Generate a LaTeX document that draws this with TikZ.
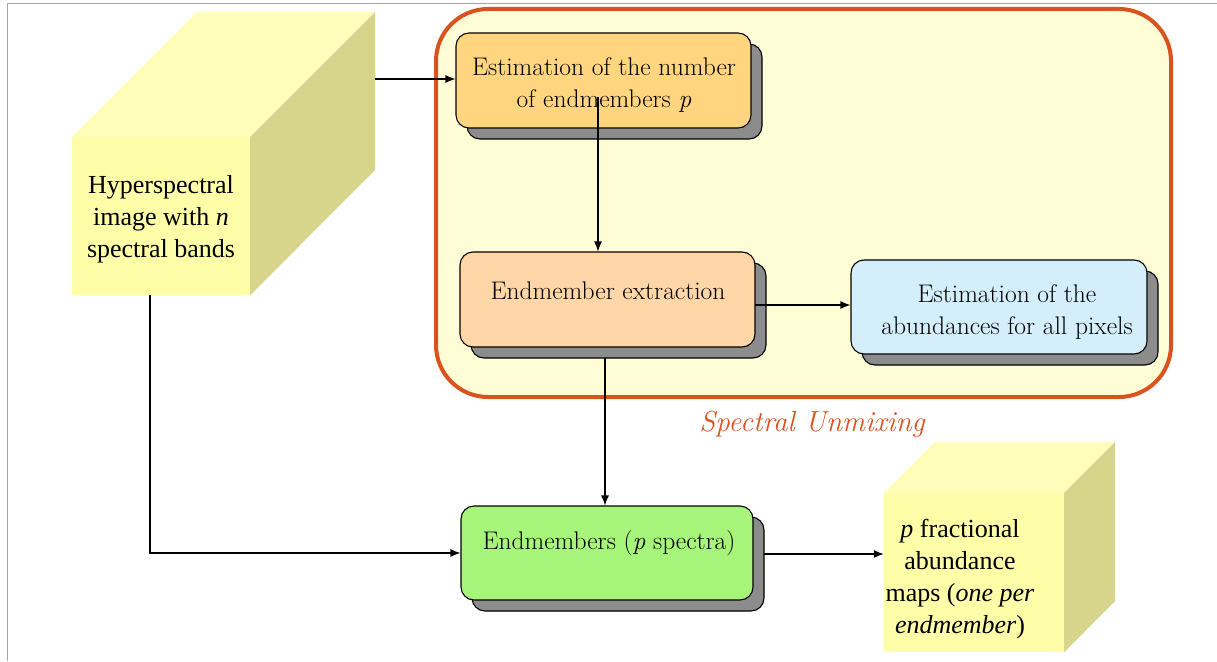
\documentclass[tikz,border=0pt]{standalone}
\usepackage{fontspec}
\newfontfamily\timesf{Liberation Serif}
\usetikzlibrary{arrows.meta,shadows,calc}
\definecolor{cubefront}{HTML}{FEFEA8}
\definecolor{cubetop}{HTML}{FFFDBA}
\definecolor{cubeside}{HTML}{D7D48B}
\definecolor{suframe}{HTML}{D9531E}
\definecolor{sufill}{HTML}{FFFDD6}
\definecolor{boxA}{HTML}{FFD580}
\definecolor{boxB}{HTML}{FFD6A7}
\definecolor{boxC}{HTML}{D4EEFC}
\definecolor{boxD}{HTML}{A7F47B}
\definecolor{shade}{HTML}{8C8C8C}
\begin{document}
\begin{tikzpicture}[x=1pt,y=-1pt,
  arr/.style={line width=1.2pt,-{Latex[length=10pt,width=8pt]}},
  stage/.style={draw=black,line width=1.1pt,rounded corners=13pt,inner sep=0pt,
    copy shadow={shadow xshift=11pt,shadow yshift=-11pt,fill=shade,draw=black,line width=1.1pt}},
  facefront/.style={fill=cubefront,inner sep=0pt},
  boxtext/.style={font=\fontsize{25.5}{32}\selectfont,align=center,text=black},
  cubetext/.style={font=\timesf\fontsize{26}{32}\selectfont,align=center,text=black}]
\useasboundingbox (0,0) rectangle (1217,661);
\fill[white] (0,0) rectangle (1217,661);
% outer frame lines
\draw[gray!70,line width=1pt] (7,661) -- (7,4) -- (1217,4);

% spectral unmixing container
\draw[suframe,fill=sufill,line width=4pt,rounded corners=52pt] (436,9) rectangle (1171,397);
\node[text=suframe,font=\itshape\fontsize{29}{34}\selectfont] (sulabel) at (812,424) {Spectral Unmixing};

% hyperspectral cube
\node[facefront,minimum width=178pt,minimum height=158pt] (c1) at (161,216) {};
\fill[cubetop] (c1.north west) -- ++(125,-125) -- ++(178,0) -- (c1.north east) -- cycle;
\fill[cubeside] (c1.north east) -- ++(125,-125) -- ++(0,158) -- (c1.south east) -- cycle;
\node[cubetext] (c1t) at (161,219) {Hyperspectral\\image with \textit{n}\\spectral bands};

% abundance maps cube
\node[facefront,minimum width=180pt,minimum height=159pt] (c2) at (974,572.5) {};
\fill[cubetop] (c2.north west) -- ++(51,-51) -- ++(180,0) -- (c2.north east) -- cycle;
\fill[cubeside] (c2.north east) -- ++(51,-51) -- ++(0,159) -- (c2.south east) -- cycle;
\node[cubetext] (c2t) at (960,579) {\textit{p} fractional\\abundance\\maps (\textit{one per}\\\textit{endmember})};

% processing stages
\node[stage,fill=boxA,minimum width=295pt,minimum height=95pt] (e1) at (603.5,80.5) {};
\node[boxtext] (e1t) at (604,85) {Estimation of the number\\of endmembers \textit{p}};
\node[stage,fill=boxB,minimum width=295pt,minimum height=95pt] (e2) at (607.5,299.5) {};
\node[boxtext] (e2t) at (608,291) {Endmember extraction};
\node[stage,fill=boxC,minimum width=296pt,minimum height=94pt] (e3) at (999,307) {};
\node[boxtext] (e3t) at (1007,312) {Estimation of the\\abundances for all pixels};
\node[stage,fill=boxD,minimum width=292pt,minimum height=94pt] (e4) at (607,553) {};
\node[boxtext] (e4t) at (609,543) {Endmembers (\textit{p} spectra)};

% connector end points
\coordinate (c1out) at (375,79);
\coordinate (e1out) at (598,97);
\coordinate (e2right) at (755,305);
\coordinate (e2down) at (605,358);
\coordinate (c1down) at (150,295);
\coordinate (e4out) at (764,554);

% connectors
\draw[arr] (c1out) -- (c1out -| e1.west);
\draw[arr] (e1out) -- (e1out |- e2.north);
\draw[arr] (e2right) -- (e2right -| e3.west);
\draw[arr] (e2down) -- (e2down |- e4.north);
\draw[arr] (c1down) |- (e4.west);
\draw[arr] (e4out) -- (e4out -| c2.west);
\end{tikzpicture}
\end{document}
